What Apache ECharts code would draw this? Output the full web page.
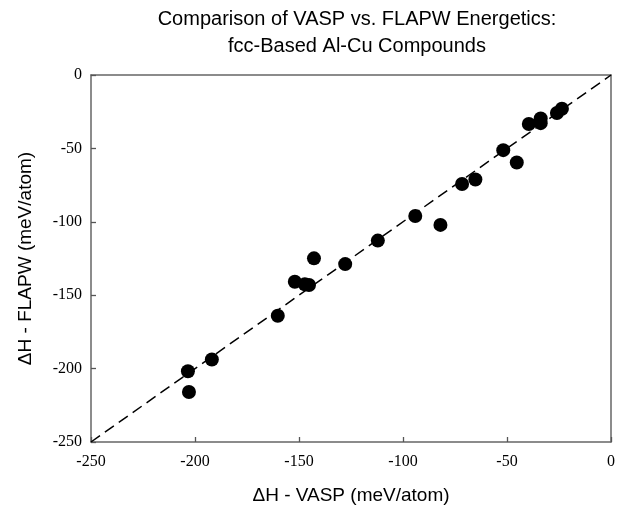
<!DOCTYPE html>
<html>
<head>
<meta charset="utf-8">
<script src="https://cdn.jsdelivr.net/npm/echarts@6/dist/echarts.min.js"></script>
<style>html,body{margin:0;padding:0;background:#fff}#c{width:618px;height:510px}</style>
</head>
<body>
<div id="c"></div>
<script>
var titleLines = ['Comparison of VASP vs. FLAPW Energetics:', 'fcc-Based Al-Cu Compounds'];
var xName = '\u0394H - VASP (meV/atom)';
var yName = '\u0394H - FLAPW (meV/atom)';
var vaspValues = [-203.4, -202.9, -191.9, -160.2, -152.0, -147.2, -145.2, -142.8, -127.8, -112.1, -94.1, -82.0, -71.6, -65.2, -51.8, -45.3, -39.5, -33.8, -33.8, -26.0, -23.6];
var flapwValues = [-201.8, -215.9, -193.8, -164.0, -140.8, -142.6, -143.1, -124.9, -128.8, -112.8, -96.0, -102.1, -74.2, -71.2, -51.2, -59.6, -33.4, -32.8, -29.6, -25.9, -23.0];
var diagonal = [[-250, -250], [0, 0]];
var axisMin = -250, axisMax = 0, axisStep = 50;

var points = vaspValues.map(function (v, i) { return [v, flapwValues[i]]; });

var chart = echarts.init(document.getElementById('c'), null, {renderer: 'canvas'});
var lineStyleFrame = {color: '#666', width: 1.5};
var axisCommon = {
  type: 'value', min: axisMin, max: axisMax, interval: axisStep,
  splitLine: {show: false},
  axisLine: {show: true, onZero: false, lineStyle: lineStyleFrame},
  axisTick: {show: true, inside: true, length: 5, lineStyle: {color: '#555', width: 1.3}},
  nameLocation: 'middle',
  nameTextStyle: {fontFamily: 'Liberation Sans', fontSize: 19, color: '#000'}
};
var frameAxis = {
  type: 'value', min: axisMin, max: axisMax, interval: axisStep,
  splitLine: {show: false},
  axisLine: {show: true, onZero: false, lineStyle: lineStyleFrame},
  axisTick: {show: false}, axisLabel: {show: false}
};
chart.setOption({
  animation: false,
  backgroundColor: '#fff',
  title: {
    text: titleLines.join('\n'),
    left: 352, top: 1, textAlign: 'center',
    textStyle: {fontFamily: 'Liberation Sans', fontSize: 20, fontWeight: 'normal', color: '#000', lineHeight: 27}
  },
  grid: {left: 91, right: 5, top: 75, bottom: 68, show: false, containLabel: false},
  xAxis: [
    Object.assign({}, axisCommon, {
      position: 'bottom',
      name: xName, nameGap: 44,
      axisLabel: {fontFamily: 'Liberation Serif', fontSize: 16, color: '#000', margin: 12}
    }),
    Object.assign({}, frameAxis, {position: 'top'})
  ],
  yAxis: [
    Object.assign({}, axisCommon, {
      position: 'left',
      name: yName, nameGap: 56,
      axisLabel: {fontFamily: 'Liberation Serif', fontSize: 16, color: '#000', margin: 9}
    }),
    Object.assign({}, frameAxis, {position: 'right'})
  ],
  series: [
    {
      type: 'line', data: diagonal, symbol: 'none', silent: true,
      lineStyle: {color: '#000', width: 1.5, type: [11, 6]}
    },
    {
      type: 'scatter', data: points, symbol: 'circle', symbolSize: 14,
      itemStyle: {color: '#000', opacity: 1}
    }
  ]
});
</script>
</body>
</html>
